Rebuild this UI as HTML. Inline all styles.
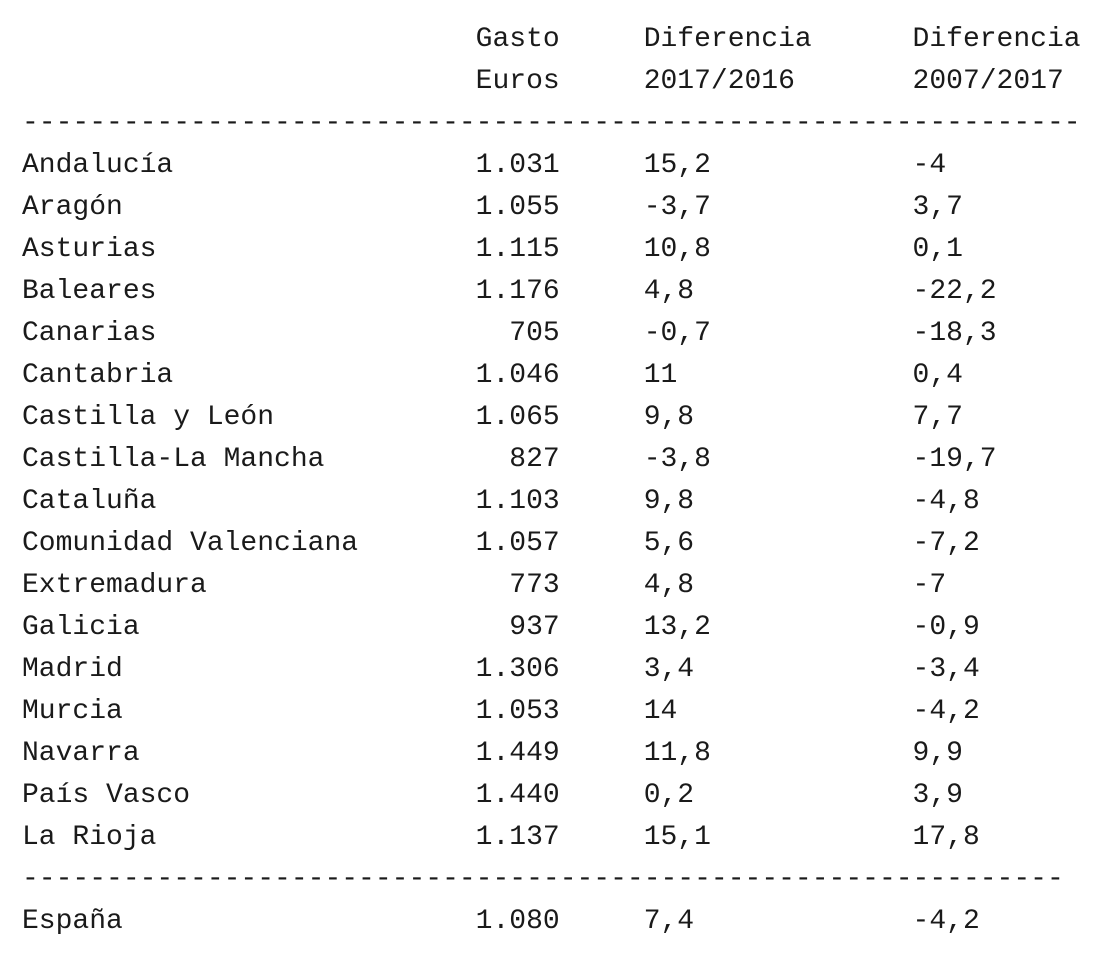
<!DOCTYPE html>
<html><head><meta charset="utf-8"><style>
body{margin:0;background:#fff;width:1104px;height:958px;overflow:hidden;position:relative;font-family:"Liberation Mono",monospace;font-size:28px;color:#1a1a1a}
.r{position:absolute;left:22px;height:42px;line-height:42px;width:1080px;white-space:pre}
.r span{position:absolute;top:0}
.a{left:0}
.b{right:calc(1080px - 32ch);text-align:right}
.c{left:37ch}
.d{left:53ch}
</style></head><body>
<div class="r" style="top:19px"><span class="b">Gasto</span><span class="c">Diferencia</span><span class="d">Diferencia</span></div>
<div class="r" style="top:61px"><span class="b">Euros</span><span class="c">2017/2016</span><span class="d">2007/2017</span></div>
<div class="r" style="top:103px"><span class="a">---------------------------------------------------------------</span></div>
<div class="r" style="top:145px"><span class="a">Andalucía</span><span class="b">1.031</span><span class="c">15,2</span><span class="d">-4</span></div>
<div class="r" style="top:187px"><span class="a">Aragón</span><span class="b">1.055</span><span class="c">-3,7</span><span class="d">3,7</span></div>
<div class="r" style="top:229px"><span class="a">Asturias</span><span class="b">1.115</span><span class="c">10,8</span><span class="d">0,1</span></div>
<div class="r" style="top:271px"><span class="a">Baleares</span><span class="b">1.176</span><span class="c">4,8</span><span class="d">-22,2</span></div>
<div class="r" style="top:313px"><span class="a">Canarias</span><span class="b">705</span><span class="c">-0,7</span><span class="d">-18,3</span></div>
<div class="r" style="top:355px"><span class="a">Cantabria</span><span class="b">1.046</span><span class="c">11</span><span class="d">0,4</span></div>
<div class="r" style="top:397px"><span class="a">Castilla y León</span><span class="b">1.065</span><span class="c">9,8</span><span class="d">7,7</span></div>
<div class="r" style="top:439px"><span class="a">Castilla-La Mancha</span><span class="b">827</span><span class="c">-3,8</span><span class="d">-19,7</span></div>
<div class="r" style="top:481px"><span class="a">Cataluña</span><span class="b">1.103</span><span class="c">9,8</span><span class="d">-4,8</span></div>
<div class="r" style="top:523px"><span class="a">Comunidad Valenciana</span><span class="b">1.057</span><span class="c">5,6</span><span class="d">-7,2</span></div>
<div class="r" style="top:565px"><span class="a">Extremadura</span><span class="b">773</span><span class="c">4,8</span><span class="d">-7</span></div>
<div class="r" style="top:607px"><span class="a">Galicia</span><span class="b">937</span><span class="c">13,2</span><span class="d">-0,9</span></div>
<div class="r" style="top:649px"><span class="a">Madrid</span><span class="b">1.306</span><span class="c">3,4</span><span class="d">-3,4</span></div>
<div class="r" style="top:691px"><span class="a">Murcia</span><span class="b">1.053</span><span class="c">14</span><span class="d">-4,2</span></div>
<div class="r" style="top:733px"><span class="a">Navarra</span><span class="b">1.449</span><span class="c">11,8</span><span class="d">9,9</span></div>
<div class="r" style="top:775px"><span class="a">País Vasco</span><span class="b">1.440</span><span class="c">0,2</span><span class="d">3,9</span></div>
<div class="r" style="top:817px"><span class="a">La Rioja</span><span class="b">1.137</span><span class="c">15,1</span><span class="d">17,8</span></div>
<div class="r" style="top:859px"><span class="a">--------------------------------------------------------------</span></div>
<div class="r" style="top:901px"><span class="a">España</span><span class="b">1.080</span><span class="c">7,4</span><span class="d">-4,2</span></div>
</body></html>
